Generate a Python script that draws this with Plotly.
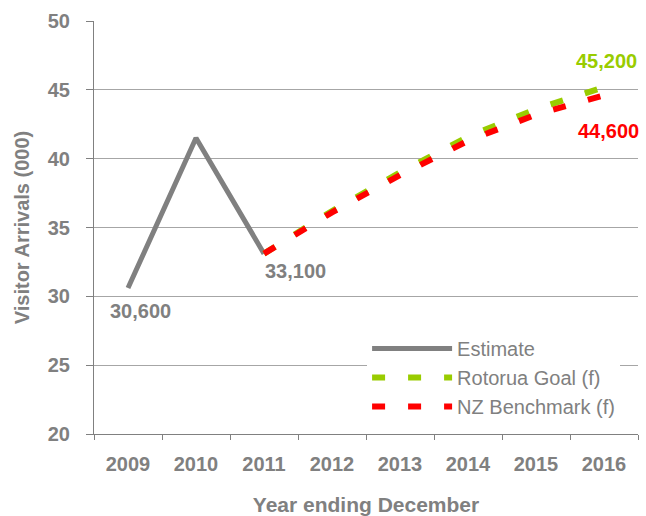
import plotly.graph_objects as go

years = ["2009", "2010", "2011", "2012", "2013", "2014", "2015", "2016"]
estimate_years = ["2009", "2010", "2011"]
estimate = [30.6, 41.5, 33.1]
forecast_years = ["2011", "2012", "2013", "2014", "2015", "2016"]
goal = [33.1, 36.2, 39.0, 41.6, 43.6, 45.2]
benchmark = [33.1, 36.1, 38.8, 41.3, 43.2, 44.6]

GRAY = "#808080"
GREEN = "#99CC00"
RED = "#FF0000"
FONT = "Liberation Sans, Arial, sans-serif"

fig = go.Figure()
fig.add_trace(go.Scatter(x=estimate_years, y=estimate, mode="lines", name="Estimate",
                         line=dict(color=GRAY, width=5)))
fig.add_trace(go.Scatter(x=forecast_years, y=goal, mode="lines", name="Rotorua Goal (f)",
                         line=dict(color=GREEN, width=6, dash="13px,23px")))
fig.add_trace(go.Scatter(x=forecast_years, y=benchmark, mode="lines", name="NZ Benchmark (f)",
                         line=dict(color=RED, width=6, dash="13px,23px")))

def lbl(v):
    return f"{int(round(v * 1000)):,}"

annots = [
    (estimate_years[0], estimate[0], GRAY, 12, -23),
    (estimate_years[2], estimate[2], GRAY, 31, -17),
    (forecast_years[-1], goal[-1], GREEN, 2, 26),
    (forecast_years[-1], benchmark[-1], RED, 4, -36),
]
for x, y, c, xs, ys in annots:
    fig.add_annotation(x=years.index(x), y=y, xref="x", yref="y", text=f"<b>{lbl(y)}</b>",
                       showarrow=False, xshift=xs, yshift=ys,
                       font=dict(family=FONT, size=20, color=c))

fig.update_layout(
    width=646, height=516,
    margin=dict(l=94, r=8, t=21, b=82),
    paper_bgcolor="white", plot_bgcolor="white",
    font=dict(family=FONT, color=GRAY),
    showlegend=True,
    legend=dict(x=0.502, xanchor="left", y=0.2545, yanchor="top",
                bgcolor="white", font=dict(family=FONT, size=20, color=GRAY),
                itemwidth=80, tracegroupgap=0),
    xaxis=dict(type="category", categoryorder="array", categoryarray=years,
               tickvals=years, ticktext=[f"<b>{y}</b>" for y in years], range=[-0.5, 7.5],
               showgrid=False, showline=True, linecolor=GRAY, linewidth=1,
               ticks="outside", tickson="boundaries", ticklen=5, tickcolor=GRAY,
               tickfont=dict(family=FONT, size=20, color=GRAY),
               ticklabelstandoff=12, automargin=False,
               title=dict(text="<b>Year ending December</b>", standoff=24,
                          font=dict(family=FONT, size=21, color=GRAY))),
    yaxis=dict(range=[20, 50], dtick=5, tick0=20,
               showgrid=True, gridcolor="#A6A6A6", gridwidth=1,
               showline=True, linecolor=GRAY, linewidth=1,
               ticks="outside", ticklen=7, tickcolor=GRAY,
               tickfont=dict(family=FONT, size=20, color=GRAY),
               ticklabelstandoff=12, zeroline=False, automargin=False,
               tickprefix="<b>", ticksuffix="</b>",
               title=dict(text="<b>Visitor Arrivals (000)</b>", standoff=12,
                          font=dict(family=FONT, size=20, color=GRAY))),
)

fig.write_html("out.html")
